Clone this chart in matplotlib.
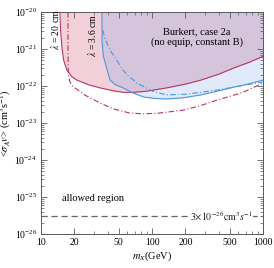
import numpy as np
import matplotlib
matplotlib.use('Agg')
from matplotlib import pyplot as plt
from matplotlib.ticker import FixedLocator, FixedFormatter, LogLocator, NullFormatter

plt.rcParams['font.family'] = ['Liberation Serif', 'DejaVu Serif']
plt.rcParams['mathtext.fontset'] = 'stix'

# lambda = 20 cm, solid boundary
red_m = [14.8, 15.0, 15.5, 16.0, 17.1, 19, 21, 27, 34, 45, 55, 69, 90, 136, 200, 276, 400, 548, 750, 1000]
red_y = [-20, -20.5, -21.0, -21.3, -21.57, -21.75, -21.84, -21.97, -22.05, -22.13, -22.17, -22.17,
         -22.14, -22.05, -21.95, -21.84, -21.68, -21.51, -21.36, -21.2]

# lambda = 20 cm, dash-dot
redd_m = [17.5, 17.5, 17.6, 18.0, 19.0, 20.2, 25, 34, 45, 63, 80, 110, 194, 280, 385, 530, 672, 1000]
redd_y = [-20, -21, -21.6, -21.85, -21.98, -22.05, -22.25, -22.46, -22.62, -22.73, -22.75, -22.74,
          -22.65, -22.52, -22.38, -22.26, -22.16, -21.92]

# lambda = 3.6 cm, solid boundary
blue_m = [35.4, 35.5, 36.5, 38.5, 41.9, 47, 54.9, 67.6, 84.6, 110, 136, 190, 276, 400, 548, 750, 1000]
blue_y = [-20, -20.8, -21.2, -21.45, -21.84, -21.97, -22.05, -22.19, -22.3, -22.34, -22.35, -22.32,
          -22.24, -22.13, -22.03, -21.94, -21.84]

# lambda = 3.6 cm, dash-dot
blued_m = [36, 38, 41.9, 48, 54.9, 62, 69, 73, 104, 136, 207, 385, 1000]
blued_y = [-20.49, -20.75, -21.03, -21.3, -21.57, -21.75, -21.85, -21.92, -22.16, -22.24, -22.22,
           -22.11, -21.89]

thermal = 3e-26
xticks = [10, 20, 50, 100, 200, 500, 1000]

red = '#b8345f'
blue = '#4f95dc'

fig = plt.figure(figsize=(2.74, 2.68), dpi=100)
ax = fig.add_axes([0.1496, 0.1269, 0.8103, 0.8283])

ry = 10.0 ** np.array(red_y)
by = 10.0 ** np.array(blue_y)
ax.fill_between(red_m, ry, 1e-20, color='#c8466e', alpha=0.25, lw=0)
ax.fill_between(blue_m, by, 1e-20, color='#6496e6', alpha=0.2, lw=0)
ax.plot(red_m, ry, color=red, lw=0.8)
ax.plot(blue_m, by, color=blue, lw=0.8)
ax.plot(redd_m, 10.0 ** np.array(redd_y), color=red, lw=0.8, dashes=(5, 2, 1, 2))
ax.plot(blued_m, 10.0 ** np.array(blued_y), color=blue, lw=0.8, dashes=(5, 2, 1, 2))

ax.axhline(thermal, color='0.4', lw=0.9, dashes=(5, 3))
ax.text(418, thermal, r'$3{\times}10^{-26}\mathrm{cm}^3s^{-1}$', fontsize=7, ha='center', va='center',
        color='0.1', bbox=dict(facecolor='white', edgecolor='none', pad=0.5))

ax.text(13.5, 10 ** -20.47, r'$\lambda$ = 20 cm', rotation=90, fontsize=7, ha='center', va='center')
ax.text(28.8, 10 ** -20.62, r'$\lambda$ = 3.6 cm', rotation=90, fontsize=7, ha='center', va='center')
ax.text(254, 10 ** -20.68, 'Burkert, case 2a\n(no equip, constant B)', fontsize=7.5, ha='center',
        va='center', linespacing=1.25)
ax.text(29.4, 10 ** -25.03, 'allowed region', fontsize=7.5, ha='center', va='center')

ax.set_xscale('log')
ax.set_yscale('log')
ax.set_xlim(10, 1000)
ax.set_ylim(1e-26, 1e-20)
ax.xaxis.set_major_locator(FixedLocator(xticks))
ax.xaxis.set_major_formatter(FixedFormatter([str(t) for t in xticks]))
ax.xaxis.set_minor_locator(LogLocator(base=10, subs=np.arange(2, 10)))
ax.xaxis.set_minor_formatter(NullFormatter())
ax.yaxis.set_major_locator(LogLocator(base=10, numticks=10))
ax.yaxis.set_minor_locator(LogLocator(base=10, subs=np.arange(2, 10), numticks=10))
ax.yaxis.set_minor_formatter(NullFormatter())
ax.tick_params(which='both', direction='in', top=True, right=True, color='0.35', labelsize=7, pad=3)
ax.tick_params(which='major', length=4, width=0.6)
ax.tick_params(which='minor', length=2, width=0.5)
for s in ax.spines.values():
    s.set_color('0.35')
    s.set_linewidth(0.7)

ax.set_xlabel(r'$m_X$(GeV)', fontsize=7.5, labelpad=2)
ax.set_ylabel(r'<$\sigma_A v$> (cm$^3$s$^{-1}$)', fontsize=7.5, labelpad=1)

fig.savefig('out.png', dpi=100)
